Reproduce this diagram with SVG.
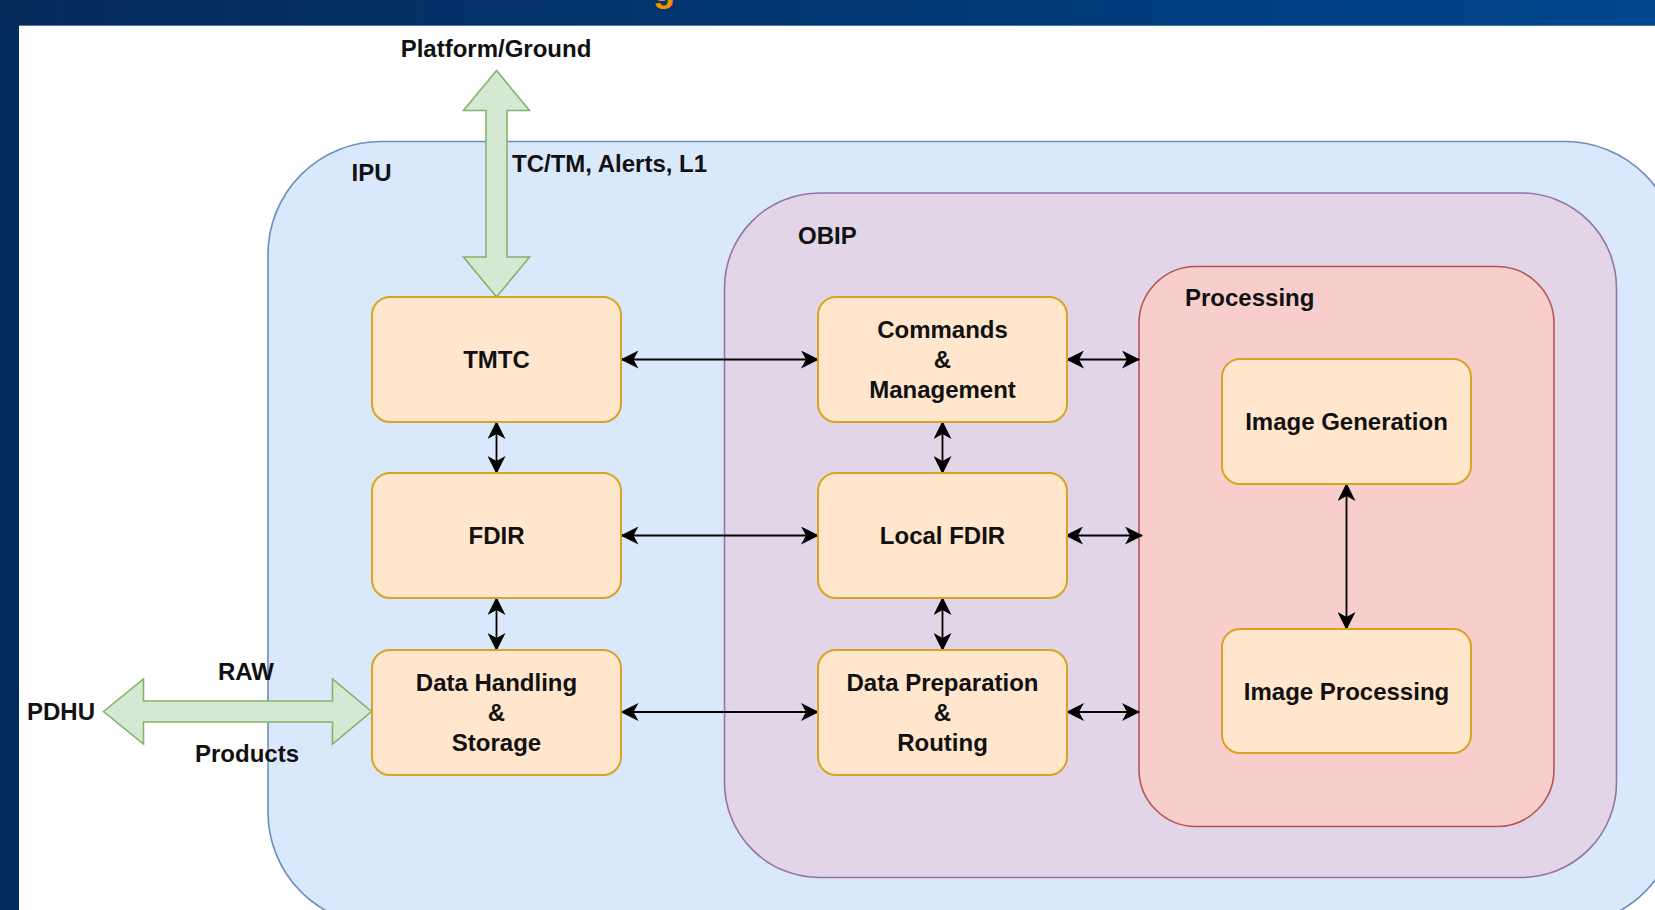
<svg xmlns="http://www.w3.org/2000/svg" width="1655" height="910" viewBox="0 0 1655 910">
  <defs>
    <linearGradient id="barGrad" x1="0" y1="0" x2="1" y2="0">
      <stop offset="0" stop-color="#062a5a"/>
      <stop offset="0.5" stop-color="#023873"/>
      <stop offset="1" stop-color="#00468e"/>
    </linearGradient>
    <marker id="arrow" viewBox="0 0 18 18" refX="17" refY="9" markerWidth="18" markerHeight="18" markerUnits="userSpaceOnUse" orient="auto-start-reverse">
      <path d="M0,0 L18,9 L0,18 L5,9 Z" fill="#000"/>
    </marker>
    <style>
      text { font-family: "Liberation Sans", Arial, Helvetica, sans-serif; font-weight: bold; font-size: 24px; fill: #111; }
      .mid { text-anchor: middle; }
      .block { fill: #ffe6cc; stroke: #d9a322; stroke-width: 2; }
      .flow { fill: #d5e8d4; stroke: #82b366; stroke-width: 1.6; stroke-linejoin: miter; }
      .link { fill: none; stroke: #000; stroke-width: 1.8; marker-start: url(#arrow); marker-end: url(#arrow); }
    </style>
  </defs>

  <!-- page frame -->
  <rect x="0" y="0" width="1655" height="910" fill="#ffffff"/>
  <rect x="0" y="0" width="19" height="910" fill="#032a5c"/>
  <rect x="0" y="0" width="1655" height="26" fill="url(#barGrad)"/>
  <line x1="19" y1="25.5" x2="1655" y2="25.5" stroke="#4b78a6" stroke-width="1"/>
  <text x="653" y="0.5" style="font-size:36px; fill:#f39200;">g</text>

  <!-- containers -->
  <g id="ipu">
    <rect x="268" y="141.5" width="1410" height="783.5" rx="113" ry="113" fill="#dae8fc" stroke="#6c8ebf" stroke-width="1.6"/>
    <text x="351.5" y="181">IPU</text>
  </g>
  <g id="obip">
    <rect x="724.5" y="193" width="892" height="684.5" rx="95" ry="95" fill="#e1d5e7" stroke="#9673a6" stroke-width="1.6"/>
    <text x="798" y="244">OBIP</text>
  </g>
  <g id="processing">
    <rect x="1139" y="266.5" width="415" height="560" rx="57" ry="57" fill="#f8cecc" stroke="#b85450" stroke-width="1.6"/>
    <text x="1185" y="306">Processing</text>
  </g>

  <!-- external interfaces -->
  <g id="platform-ground">
    <polygon class="flow" points="496.5,70.5 529.5,110.5 507,110.5 507,257 529.5,257 496.5,297 463.5,257 486,257 486,110.5 463.5,110.5"/>
    <text class="mid" x="496" y="57">Platform/Ground</text>
    <text x="512" y="172">TC/TM, Alerts, L1</text>
  </g>
  <g id="pdhu">
    <polygon class="flow" points="103.5,711.5 143.5,679 143.5,701 332.5,701 332.5,679 371.5,711.5 332.5,744 332.5,722 143.5,722 143.5,744"/>
    <text class="mid" x="61" y="720">PDHU</text>
    <text class="mid" x="246" y="680">RAW</text>
    <text class="mid" x="247" y="762">Products</text>
  </g>

  <!-- connectors -->
  <g id="connectors">
    <line class="link" x1="621.5" y1="359.5" x2="818" y2="359.5"/>
    <line class="link" x1="621.5" y1="535.5" x2="818" y2="535.5"/>
    <line class="link" x1="621.5" y1="712" x2="818" y2="712"/>
    <line class="link" x1="1067" y1="359.5" x2="1139" y2="359.5"/>
    <line class="link" x1="1066" y1="535.5" x2="1142" y2="535.5"/>
    <line class="link" x1="1067" y1="712" x2="1139" y2="712"/>
    <line class="link" x1="496.5" y1="422" x2="496.5" y2="473"/>
    <line class="link" x1="496.5" y1="598" x2="496.5" y2="650"/>
    <line class="link" x1="942.5" y1="422" x2="942.5" y2="473"/>
    <line class="link" x1="942.5" y1="598" x2="942.5" y2="650"/>
    <line class="link" x1="1346.5" y1="484" x2="1346.5" y2="629"/>
  </g>

  <!-- IPU blocks -->
  <g id="tmtc">
    <rect class="block" x="372" y="297" width="249" height="125" rx="18" ry="18"/>
    <text class="mid" x="496.5" y="368">TMTC</text>
  </g>
  <g id="fdir">
    <rect class="block" x="372" y="473" width="249" height="125" rx="18" ry="18"/>
    <text class="mid" x="496.5" y="544">FDIR</text>
  </g>
  <g id="data-handling">
    <rect class="block" x="372" y="650" width="249" height="125" rx="18" ry="18"/>
    <text class="mid" x="496.5" y="690.5">Data Handling</text>
    <text class="mid" x="496.5" y="720.5">&amp;</text>
    <text class="mid" x="496.5" y="750.5">Storage</text>
  </g>

  <!-- OBIP blocks -->
  <g id="commands">
    <rect class="block" x="818" y="297" width="249" height="125" rx="18" ry="18"/>
    <text class="mid" x="942.5" y="337.5">Commands</text>
    <text class="mid" x="942.5" y="367.5">&amp;</text>
    <text class="mid" x="942.5" y="397.5">Management</text>
  </g>
  <g id="local-fdir">
    <rect class="block" x="818" y="473" width="249" height="125" rx="18" ry="18"/>
    <text class="mid" x="942.5" y="544">Local FDIR</text>
  </g>
  <g id="data-preparation">
    <rect class="block" x="818" y="650" width="249" height="125" rx="18" ry="18"/>
    <text class="mid" x="942.5" y="690.5">Data Preparation</text>
    <text class="mid" x="942.5" y="720.5">&amp;</text>
    <text class="mid" x="942.5" y="750.5">Routing</text>
  </g>

  <!-- Processing blocks -->
  <g id="image-generation">
    <rect class="block" x="1222" y="359" width="249" height="125" rx="18" ry="18"/>
    <text class="mid" x="1346.5" y="430">Image Generation</text>
  </g>
  <g id="image-processing">
    <rect class="block" x="1222" y="629" width="249" height="124" rx="18" ry="18"/>
    <text class="mid" x="1346.5" y="699.5">Image Processing</text>
  </g>
</svg>
